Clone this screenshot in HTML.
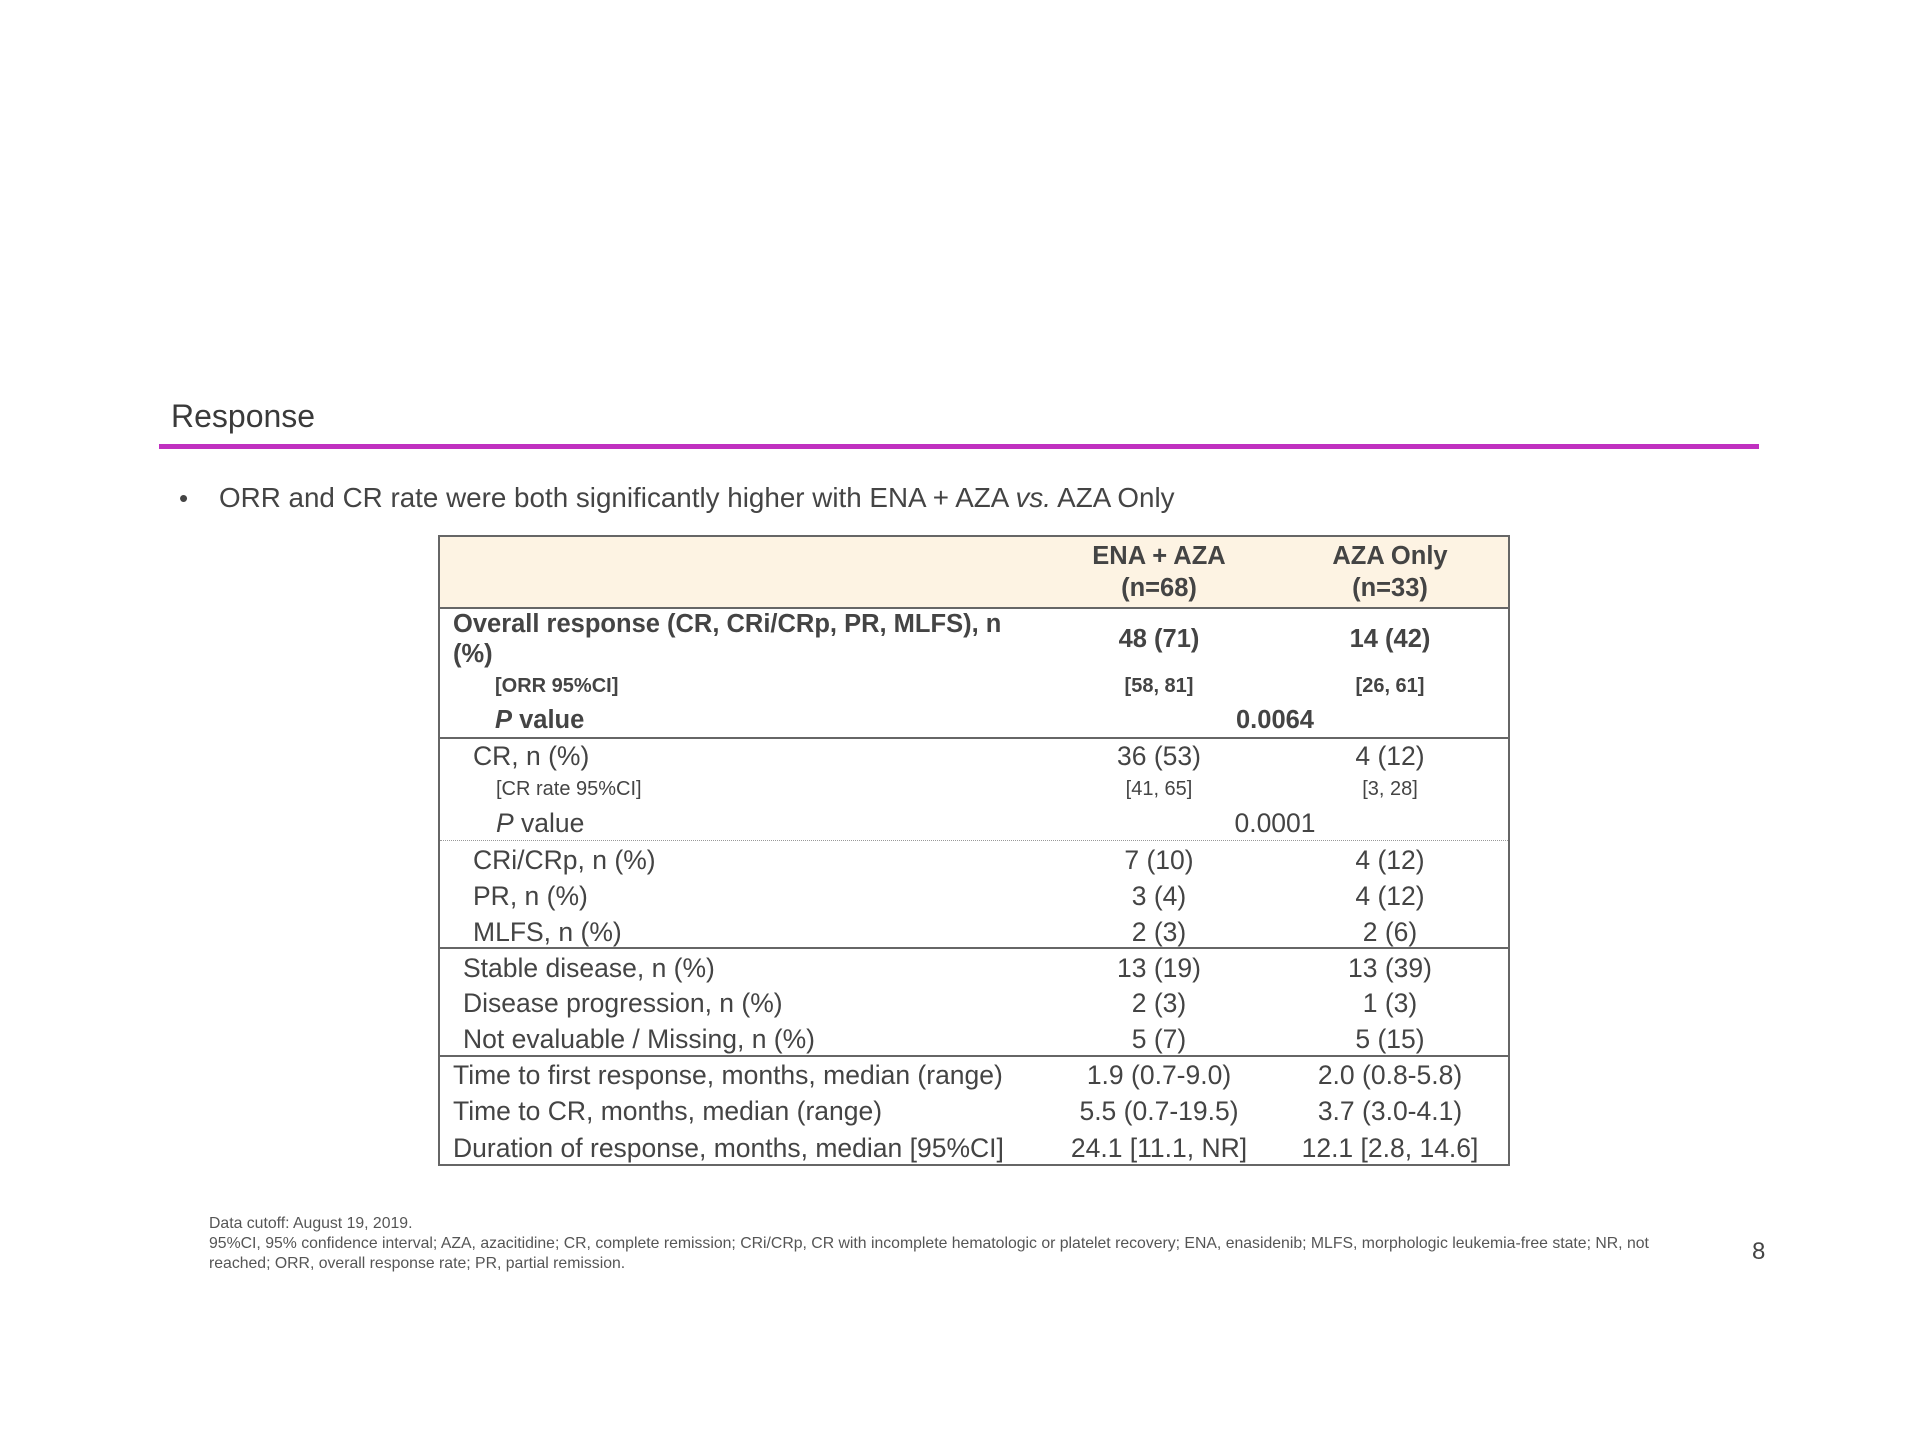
<!DOCTYPE html>
<html><head><meta charset="utf-8"><style>
body{margin:0;width:1920px;height:1440px;background:#fff;position:relative;font-family:"Liberation Sans",sans-serif;color:#444;overflow:hidden}
.a{position:absolute;white-space:nowrap;line-height:1}
.c{transform:translateX(-50%)}
.t{font-size:26.5px}
.s{font-size:20px}
.h{font-size:25.5px}
.b{font-weight:bold}
#tb{position:absolute;left:2px;top:2px;width:1920px;height:1440px}
.hl{position:absolute;left:438px;width:1068px;height:2px;background:#666}
</style></head><body>
<div class="a" style="left:171px;top:400px;font-size:32px;color:#3a3a3a">Response</div>
<div style="position:absolute;left:159px;top:444px;width:1600px;height:5px;background:#c030c0"></div>
<div class="a" style="left:179px;top:485px;font-size:26px">•</div>
<div class="a" style="left:219px;top:484px;font-size:27.8px">ORR and CR rate were both significantly higher with ENA + AZA <i>vs.</i> AZA Only</div>

<div id="tb">
<div style="position:absolute;left:436px;top:533px;width:1068px;height:627px;border:2px solid #666"></div>
<div style="position:absolute;left:438px;top:535px;width:1068px;height:70px;background:#fdf3e3"></div>
<div class="hl" style="top:605px"></div>
<div class="hl" style="top:735px"></div>
<div style="position:absolute;left:438px;top:838px;width:1068px;border-top:1px dotted #999"></div>
<div class="hl" style="top:945px"></div>
<div class="hl" style="top:1053px"></div>

<div class="a c h b" style="left:1157px;top:542px">ENA + AZA</div>
<div class="a c h b" style="left:1157px;top:574px">(n=68)</div>
<div class="a c h b" style="left:1388px;top:542px">AZA Only</div>
<div class="a c h b" style="left:1388px;top:574px">(n=33)</div>

<div class="a h b" style="left:451px;top:610px">Overall response (CR, CRi/CRp, PR, MLFS), n</div>
<div class="a h b" style="left:451px;top:640px">(%)</div>
<div class="a c h b" style="left:1157px;top:625px">48 (71)</div>
<div class="a c h b" style="left:1388px;top:625px">14 (42)</div>
<div class="a s b" style="left:493px;top:674px">[ORR 95%CI]</div>
<div class="a c s b" style="left:1157px;top:674px">[58, 81]</div>
<div class="a c s b" style="left:1388px;top:674px">[26, 61]</div>
<div class="a h b" style="left:493px;top:706px"><i>P</i> value</div>
<div class="a c h b" style="left:1273px;top:706px">0.0064</div>

<div class="a t" style="left:471px;top:741px">CR, n (%)</div>
<div class="a c t" style="left:1157px;top:741px">36 (53)</div>
<div class="a c t" style="left:1388px;top:741px">4 (12)</div>
<div class="a s" style="left:494px;top:777px">[CR rate 95%CI]</div>
<div class="a c s" style="left:1157px;top:777px">[41, 65]</div>
<div class="a c s" style="left:1388px;top:777px">[3, 28]</div>
<div class="a t" style="left:494px;top:808px"><i>P</i> value</div>
<div class="a c t" style="left:1273px;top:808px">0.0001</div>

<div class="a t" style="left:471px;top:845px">CRi/CRp, n (%)</div>
<div class="a c t" style="left:1157px;top:845px">7 (10)</div>
<div class="a c t" style="left:1388px;top:845px">4 (12)</div>
<div class="a t" style="left:471px;top:881px">PR, n (%)</div>
<div class="a c t" style="left:1157px;top:881px">3 (4)</div>
<div class="a c t" style="left:1388px;top:881px">4 (12)</div>
<div class="a t" style="left:471px;top:917px">MLFS, n (%)</div>
<div class="a c t" style="left:1157px;top:917px">2 (3)</div>
<div class="a c t" style="left:1388px;top:917px">2 (6)</div>

<div class="a t" style="left:461px;top:953px">Stable disease, n (%)</div>
<div class="a c t" style="left:1157px;top:953px">13 (19)</div>
<div class="a c t" style="left:1388px;top:953px">13 (39)</div>
<div class="a t" style="left:461px;top:988px">Disease progression, n (%)</div>
<div class="a c t" style="left:1157px;top:988px">2 (3)</div>
<div class="a c t" style="left:1388px;top:988px">1 (3)</div>
<div class="a t" style="left:461px;top:1024px">Not evaluable / Missing, n (%)</div>
<div class="a c t" style="left:1157px;top:1024px">5 (7)</div>
<div class="a c t" style="left:1388px;top:1024px">5 (15)</div>

<div class="a t" style="left:451px;top:1060px">Time to first response, months, median (range)</div>
<div class="a c t" style="left:1157px;top:1060px">1.9 (0.7-9.0)</div>
<div class="a c t" style="left:1388px;top:1060px">2.0 (0.8-5.8)</div>
<div class="a t" style="left:451px;top:1096px">Time to CR, months, median (range)</div>
<div class="a c t" style="left:1157px;top:1096px">5.5 (0.7-19.5)</div>
<div class="a c t" style="left:1388px;top:1096px">3.7 (3.0-4.1)</div>
<div class="a t" style="left:451px;top:1133px">Duration of response, months, median [95%CI]</div>
<div class="a c t" style="left:1157px;top:1133px">24.1 [11.1, NR]</div>
<div class="a c t" style="left:1388px;top:1133px">12.1 [2.8, 14.6]</div>
</div>

<div class="a" style="left:209px;top:1216px;font-size:15.8px;color:#555">Data cutoff: August 19, 2019.</div>
<div class="a" style="left:209px;top:1236px;font-size:15.8px;color:#555">95%CI, 95% confidence interval; AZA, azacitidine; CR, complete remission; CRi/CRp, CR with incomplete hematologic or platelet recovery; ENA, enasidenib; MLFS, morphologic leukemia-free state; NR, not</div>
<div class="a" style="left:209px;top:1256px;font-size:15.8px;color:#555">reached; ORR, overall response rate; PR, partial remission.</div>
<div class="a" style="left:1752px;top:1240px;font-size:24px;color:#444">8</div>
</body></html>
